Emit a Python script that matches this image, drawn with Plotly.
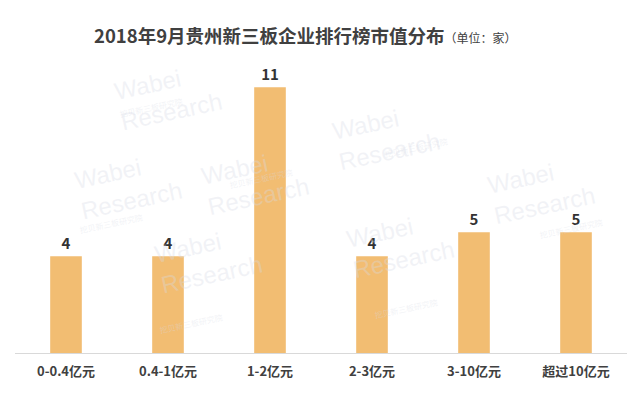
import plotly.graph_objects as go

categories = ["0-0.4亿元", "0.4-1亿元", "1-2亿元", "2-3亿元", "3-10亿元", "超过10亿元"]
counts = [4, 4, 11, 4, 5, 5]

title_main = "2018年9月贵州新三板企业排行榜市值分布"
title_unit = "（单位：家）"

bar_color = "#F2BD72"
text_color = "#333333"
font_family = "Noto Sans CJK SC, Microsoft YaHei, sans-serif"

W, H = 640, 399
M_L, M_R, M_T, M_B = 15, 13, 63, 46
PW, PH = W - M_L - M_R, H - M_T - M_B


def px_to_paper(px, py):
    """Convert canvas pixel position to paper coordinates of the plot area."""
    return (px - M_L) / PW, (H - M_B - py) / PH


fig = go.Figure()
fig.add_trace(go.Bar(
    x=categories,
    y=counts,
    width=0.31,
    marker=dict(color=bar_color, line=dict(width=0)),
    text=[f"<b>{v}</b>" for v in counts],
    textposition="outside",
    textfont=dict(size=15, color=text_color, family=font_family),
    cliponaxis=False,
))

# faint brand watermark scattered over the canvas
watermarks = [(110, 55), (445, 95), (255, 140), (70, 185), (600, 190), (400, 285), (150, 300)]
annotations = []
for wx, wy in watermarks:
    ax, ay = px_to_paper(wx, wy)
    bx, by = px_to_paper(wx + 6, wy + 38)
    annotations.append(dict(
        x=ax, y=ay, xref="paper", yref="paper",
        text="Wabei<br>Research",
        showarrow=False, textangle=-12,
        font=dict(size=24, color="rgba(215,219,230,0.35)", family="Arial"),
        align="left",
    ))
    annotations.append(dict(
        x=bx, y=by, xref="paper", yref="paper",
        text="挖贝新三板研究院",
        showarrow=False, textangle=-12,
        font=dict(size=8, color="rgba(215,219,230,0.35)", family=font_family),
    ))

tx, ty = px_to_paper(305, 20)
annotations.append(dict(
    x=tx, y=ty, xref="paper", yref="paper",
    text=f"<b>{title_main}</b><span style='font-size:12px'>{title_unit}</span>",
    showarrow=False,
    font=dict(size=18.5, color="#404040", family=font_family),
))

fig.update_layout(
    width=W, height=H,
    margin=dict(l=M_L, r=M_R, t=M_T, b=M_B),
    paper_bgcolor="white",
    plot_bgcolor="white",
    showlegend=False,
    annotations=annotations,
    xaxis=dict(
        showline=True, linecolor="#D9D9D9", linewidth=1,
        ticks="", showgrid=False,
        tickfont=dict(size=13, color="#404040", family=font_family),
        ticklabelstandoff=6,
    ),
    yaxis=dict(
        range=[0, 12], visible=False, showgrid=False, zeroline=False,
    ),
)

fig.update_xaxes(tickvals=categories, ticktext=[f"<b>{c}</b>" for c in categories])

fig.write_html("out.html")
